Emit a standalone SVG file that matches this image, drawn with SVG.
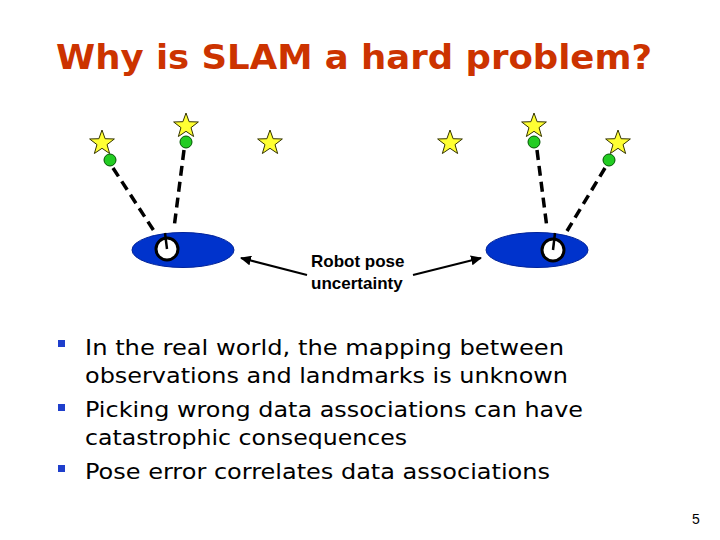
<svg xmlns="http://www.w3.org/2000/svg" width="720" height="540" viewBox="0 0 720 540">
<style>
.title{font-family:"DejaVu Sans",Verdana,sans-serif;font-weight:bold;font-size:34px;fill:#cc3300}
.body{font-family:"DejaVu Sans",Verdana,sans-serif;font-size:22px;fill:#000}
.lbl{font-family:"Liberation Sans",Arial,sans-serif;font-weight:bold;font-size:17px;fill:#000}
.star{fill:#ffff33;stroke:#333300;stroke-width:1}
.dot{fill:#22cc22;stroke:#005500;stroke-width:1}
.obs{stroke:#000;stroke-width:3.5;stroke-dasharray:10 6;fill:none}
.body-e{fill:#0033cc;stroke:#002299;stroke-width:1}
.wheel{fill:#fff;stroke:#000;stroke-width:3}
.head{stroke:#000;stroke-width:2.5}
.arr{stroke:#000;stroke-width:2;fill:none;marker-end:url(#ah)}
.bul{fill:#1f3fcc}
</style>
<defs>
<path id="star" d="M0,-13 L3.12,-4.29 L12.36,-4.02 L5.04,1.64 L7.64,10.52 L0,5.3 L-7.64,10.52 L-5.04,1.64 L-12.36,-4.02 L-3.12,-4.29 Z"/>
<marker id="ah" markerWidth="12" markerHeight="10" refX="10" refY="5" orient="auto" markerUnits="userSpaceOnUse">
<path d="M0,0 L11,5 L0,10 Z" fill="#000"/>
</marker>
</defs>
<rect width="720" height="540" fill="#fff"/>
<text class="title" x="56" y="69" textLength="596" lengthAdjust="spacingAndGlyphs">Why is SLAM a hard problem?</text>

<g id="landmarks">
<use href="#star" class="star" x="102" y="143"/>
<use href="#star" class="star" x="186" y="126"/>
<use href="#star" class="star" x="270" y="143"/>
<use href="#star" class="star" x="450" y="143"/>
<use href="#star" class="star" x="534" y="126"/>
<use href="#star" class="star" x="618" y="143"/>
</g>
<g id="observations">
<circle class="dot" cx="110" cy="160" r="6"/>
<circle class="dot" cx="186" cy="142" r="6"/>
<circle class="dot" cx="534" cy="142" r="6"/>
<circle class="dot" cx="609" cy="160" r="6"/>
</g>
<g id="connectors">
<line class="obs" x1="113" y1="168" x2="154" y2="231"/>
<line class="obs" x1="184" y1="150" x2="174" y2="228"/>
<line class="obs" x1="537" y1="150" x2="547" y2="228"/>
<line class="obs" x1="605" y1="168" x2="567" y2="231"/>
<line class="arr" x1="307" y1="275" x2="241" y2="258"/>
<line class="arr" x1="413" y1="275" x2="481" y2="258"/>
</g>
<g id="robot-left">
<ellipse class="body-e" cx="183" cy="250" rx="51" ry="17.5"/>
<circle class="wheel" cx="167" cy="249" r="11"/>
<line class="head" x1="167" y1="249" x2="165" y2="233"/>
</g>
<g id="robot-right">
<ellipse class="body-e" cx="537" cy="250" rx="51" ry="17.5"/>
<circle class="wheel" cx="553" cy="250" r="11"/>
<line class="head" x1="553" y1="250" x2="555" y2="233"/>
</g>
<g id="label">
<text class="lbl" x="311" y="267">Robot pose</text>
<text class="lbl" x="311" y="289">uncertainty</text>
</g>
<g id="bullets">
<rect class="bul" x="58" y="340" width="7" height="7"/>
<rect class="bul" x="58" y="404" width="7" height="7"/>
<rect class="bul" x="58" y="465" width="7" height="7"/>
<text class="body" x="85" y="355" textLength="479" lengthAdjust="spacingAndGlyphs">In the real world, the mapping between</text>
<text class="body" x="85" y="383" textLength="483" lengthAdjust="spacingAndGlyphs">observations and landmarks is unknown</text>
<text class="body" x="85" y="417" textLength="498" lengthAdjust="spacingAndGlyphs">Picking wrong data associations can have</text>
<text class="body" x="85" y="445" textLength="322" lengthAdjust="spacingAndGlyphs">catastrophic consequences</text>
<text class="body" x="85" y="479" textLength="465" lengthAdjust="spacingAndGlyphs">Pose error correlates data associations</text>
</g>
<text x="692" y="524" font-family="'Liberation Sans',Arial,sans-serif" font-size="14" fill="#000">5</text>
</svg>
